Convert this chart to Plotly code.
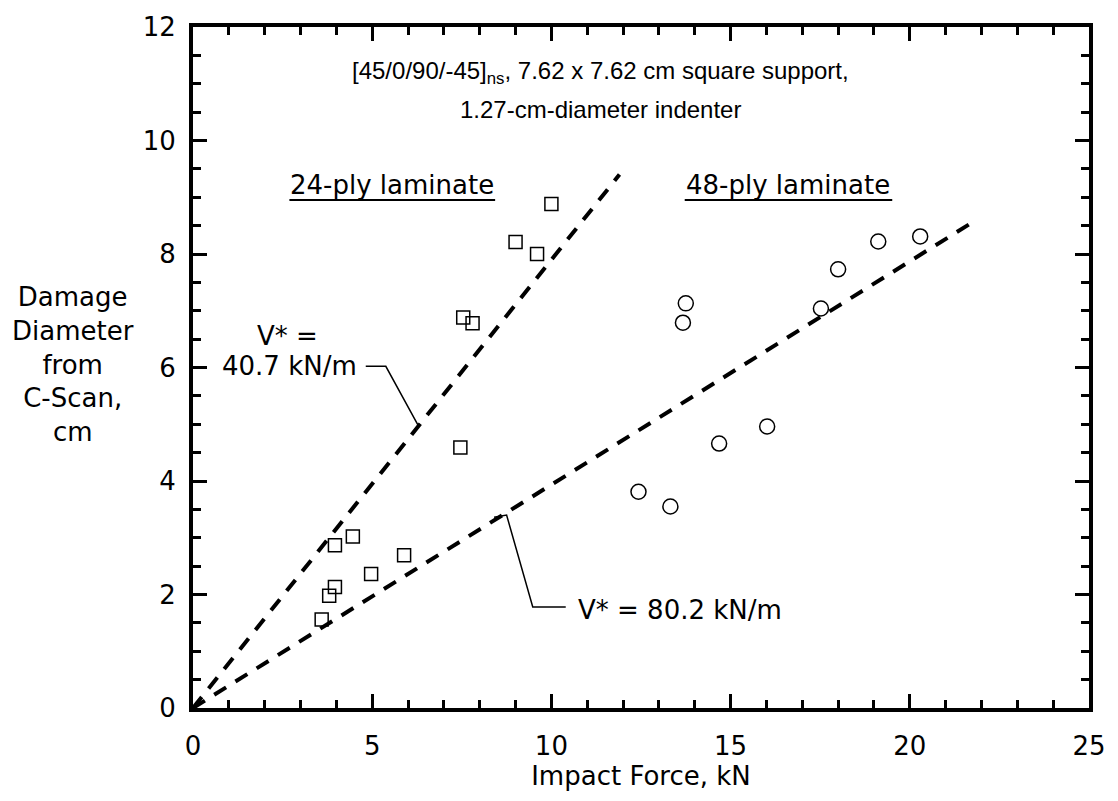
import plotly.graph_objects as go

# 24-ply laminate (squares)
force_24 = [10.0, 9.0, 9.6, 7.54, 7.80, 7.46, 3.96, 4.46, 5.89, 4.97, 3.96, 3.80, 3.59]
diam_24 = [8.88, 8.21, 8.0, 6.88, 6.78, 4.59, 2.87, 3.02, 2.69, 2.36, 2.13, 1.98, 1.56]

# 48-ply laminate (circles)
force_48 = [13.75, 13.67, 12.43, 13.32, 14.68, 16.02, 17.52, 18.0, 19.12, 20.29]
diam_48 = [7.13, 6.79, 3.81, 3.55, 4.66, 4.96, 7.04, 7.73, 8.22, 8.31]

# V* prediction lines
line24_x = [0.0, 11.9]
line24_y = [0.0, 9.4]
line48_x = [0.0, 21.7]
line48_y = [0.0, 8.54]

x_range = [0, 25]
y_range = [0, 12]

FONT = "DejaVu Sans, Liberation Sans, Arial, sans-serif"
TITLE_FONT = "Liberation Sans, Arial, sans-serif"
FS = 26
BLACK = "#000000"

fig = go.Figure()

fig.add_trace(go.Scatter(x=line24_x, y=line24_y, mode="lines",
                         line=dict(color=BLACK, width=4, dash="14px,11px"),
                         showlegend=False, hoverinfo="skip"))
fig.add_trace(go.Scatter(x=line48_x, y=line48_y, mode="lines",
                         line=dict(color=BLACK, width=4, dash="14px,11px"),
                         showlegend=False, hoverinfo="skip"))
fig.add_trace(go.Scatter(x=force_24, y=diam_24, mode="markers",
                         marker=dict(symbol="square-open", size=13, color=BLACK, line=dict(width=1.5)),
                         showlegend=False))
fig.add_trace(go.Scatter(x=force_48, y=diam_48, mode="markers",
                         marker=dict(symbol="circle-open", size=15, color=BLACK, line=dict(width=1.5)),
                         showlegend=False))

# Leader lines
fig.add_shape(type="path", path="M 4.82 6.02 L 5.38 6.02 L 6.29 4.97",
              xref="x", yref="y", line=dict(color=BLACK, width=1.5))
fig.add_shape(type="path", path="M 8.40 3.36 L 8.75 3.40 L 9.48 1.78 L 10.40 1.78",
              xref="x", yref="y", line=dict(color=BLACK, width=1.5))
# Underlines
fig.add_shape(type="line", x0=2.69, x1=8.43, y0=8.95, y1=8.95, xref="x", yref="y",
              line=dict(color=BLACK, width=2))
fig.add_shape(type="line", x0=13.72, x1=19.51, y0=8.95, y1=8.95, xref="x", yref="y",
              line=dict(color=BLACK, width=2))

def ann(text, x, y, xanchor="center", xref="x", yref="y", family=FONT, size=FS):
    fig.add_annotation(text=text, x=x, y=y, xref=xref, yref=yref, showarrow=False,
                       xanchor=xanchor, yanchor="middle", align="center",
                       font=dict(family=family, size=size, color=BLACK))

ann("[45/0/90/-45]<sub>ns</sub>, 7.62 x 7.62 cm square support,", 11.37, 11.2,
    family=TITLE_FONT, size=24)
ann("1.27-cm-diameter indenter", 11.37, 10.55, family=TITLE_FONT, size=24)
ann("24-ply laminate", 5.55, 9.22)
ann("48-ply laminate", 16.6, 9.22)
ann("V* =", 2.63, 6.56)
ann("40.7 kN/m", 2.68, 6.02)
ann("V* = 80.2 kN/m", 10.70, 1.73, xanchor="left")
ann("Damage<br>Diameter<br>from<br>C-Scan,<br>cm", (72 - 193) / 902, (708 - 361) / 688,
    xref="x domain", yref="y domain")

axis_common = dict(showgrid=False, zeroline=False, showline=True, linecolor=BLACK, linewidth=4,
                   mirror="ticks", ticks="inside", tickcolor=BLACK, tickwidth=3,
                   ticklen=14, tickfont=dict(family=FONT, size=FS, color=BLACK))

fig.update_xaxes(range=x_range, tickmode="linear", tick0=0, dtick=5,
                 minor=dict(dtick=1, ticklen=8, tickwidth=3, tickcolor=BLACK, ticks="inside"),
                 ticklabelstandoff=12,
                 title=dict(text="Impact Force, kN", font=dict(family=FONT, size=FS, color=BLACK),
                            standoff=8),
                 **axis_common)
fig.update_yaxes(range=y_range, tickmode="linear", tick0=0, dtick=2,
                 minor=dict(dtick=0.5, ticklen=8, tickwidth=3, tickcolor=BLACK, ticks="inside"),
                 ticklabelstandoff=8,
                 **axis_common)

fig.update_layout(width=1118, height=801, plot_bgcolor="white", paper_bgcolor="white",
                  margin=dict(l=193, r=23, t=20, b=93), showlegend=False,
                  font=dict(family=FONT, color=BLACK))

fig.write_html("out.html")
